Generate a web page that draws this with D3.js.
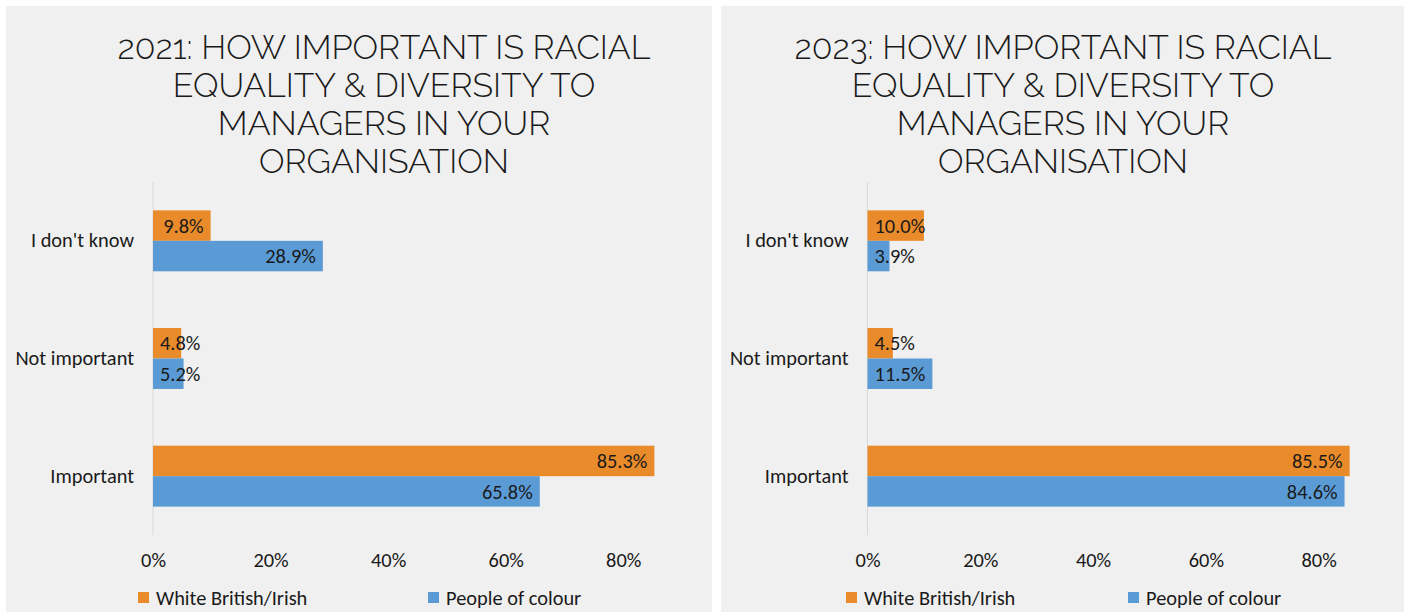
<!DOCTYPE html>
<html>
<head>
<meta charset="utf-8">
<script src="https://cdn.jsdelivr.net/npm/d3@7/dist/d3.min.js"></script>
<style>
  html, body { margin: 0; padding: 0; background: #ffffff; }
  svg { display: block; }
</style>
</head>
<body>
<svg id="chart" width="1405" height="612"></svg>
<script>
// Survey answers, one panel per survey year
const categories = ["I don't know", "Not important", "Important"];
const seriesNames = ["White British/Irish", "People of colour"];
const years = ["2021", "2023"];
const white2021 = [0.098, 0.048, 0.853];
const colour2021 = [0.289, 0.052, 0.658];
const white2023 = [0.100, 0.045, 0.855];
const colour2023 = [0.039, 0.115, 0.846];
const tickValues = [0, 0.2, 0.4, 0.6, 0.8];
const titleLines = ["HOW IMPORTANT IS RACIAL", "EQUALITY & DIVERSITY TO", "MANAGERS IN YOUR", "ORGANISATION"];

const colors = ["#E98B2A", "#5B9BD5"];
const bodyFont = "Carlito, Lato, 'Liberation Sans', sans-serif";
const titleFont = "Raleway, Lato, 'Open Sans', sans-serif";
const bodySize = 20.4;

const panels = [
  { year: years[0], values: [white2021, colour2021], box: [6, 6, 706, 606],
    plot: [153, 182, 682, 535], titleX: 384, legendX: [138, 428] },
  { year: years[1], values: [white2023, colour2023], box: [721, 6, 683, 606],
    plot: [867.5, 182, 1375, 535], titleX: 1063, legendX: [846, 1128] }
];

const svg = d3.select("#chart");
const pct = d3.format(".1%");
const tickFmt = d3.format(".0%");

panels.forEach(p => {
  const g = svg.append("g");
  const [bx, by, bw, bh] = p.box;
  const [left, top, right, bottom] = p.plot;

  g.append("rect").attr("x", bx).attr("y", by).attr("width", bw).attr("height", bh)
    .attr("fill", "#f0f0f0");

  // Title, four centred lines
  const title = g.append("text")
    .attr("text-anchor", "middle")
    .attr("font-family", titleFont)
    .attr("font-weight", 300)
    .attr("font-size", 33.9)
    .attr("fill", "#1a1a1a");
  [p.year + ": " + titleLines[0]].concat(titleLines.slice(1)).forEach((line, i) => {
    title.append("tspan").attr("x", p.titleX).attr("y", 59 + i * 38).text(line);
  });

  const x = d3.scaleLinear().domain([0, 0.9]).range([left, right]);
  const y = d3.scaleBand().domain(categories).range([top, bottom])
    .paddingInner(0.482).paddingOuter(0.241);
  const ySub = d3.scaleBand().domain(seriesNames).range([0, y.bandwidth()]);

  // Category axis line
  g.append("line").attr("x1", x(0)).attr("x2", x(0)).attr("y1", top).attr("y2", bottom)
    .attr("stroke", "#d9d9d9").attr("stroke-width", 1);

  // Value axis: labels only
  const xAxis = d3.axisBottom(x).tickValues(tickValues).tickFormat(tickFmt).tickSize(0).tickPadding(0);
  const ax = g.append("g").attr("transform", `translate(0,${bottom + 18})`).call(xAxis);
  ax.select(".domain").remove();
  ax.selectAll("text").attr("font-family", bodyFont).attr("font-size", bodySize).attr("fill", "#1a1a1a")
    .attr("dy", "0.71em");

  // Category labels
  const yAxis = d3.axisLeft(y).tickSize(0).tickPadding(19);
  const ay = g.append("g").attr("transform", `translate(${x(0)},0)`).call(yAxis);
  ay.select(".domain").remove();
  ay.selectAll("text").attr("font-family", bodyFont).attr("font-size", bodySize).attr("fill", "#1a1a1a");

  // Bars
  seriesNames.forEach((s, si) => {
    const vals = p.values[si];
    const bars = g.append("g");
    bars.selectAll("rect").data(categories).join("rect")
      .attr("x", x(0))
      .attr("y", c => y(c) + ySub(s))
      .attr("width", (c, i) => x(vals[i]) - x(0))
      .attr("height", ySub.bandwidth())
      .attr("fill", colors[si]);

    // Data labels at the inside end, pushed right when the bar is too short
    bars.selectAll("text").data(categories).join("text")
      .attr("font-family", bodyFont).attr("font-size", bodySize).attr("fill", "#1a1a1a")
      .attr("dy", "0.35em")
      .attr("y", c => y(c) + ySub(s) + ySub.bandwidth() / 2)
      .text((c, i) => pct(vals[i]))
      .each(function (c, i) {
        const w = this.getComputedTextLength();
        const end = Math.max(x(vals[i]) - 7, x(0) + 7 + w);
        d3.select(this).attr("x", end).attr("text-anchor", "end");
      });
  });

  // Legend
  seriesNames.forEach((s, si) => {
    const lx = p.legendX[si];
    g.append("rect").attr("x", lx).attr("y", 592).attr("width", 11).attr("height", 11)
      .attr("fill", colors[si]);
    g.append("text").attr("x", lx + 18).attr("y", 605)
      .attr("font-family", bodyFont).attr("font-size", bodySize).attr("fill", "#1a1a1a")
      .text(s);
  });
});
</script>
</body>
</html>
